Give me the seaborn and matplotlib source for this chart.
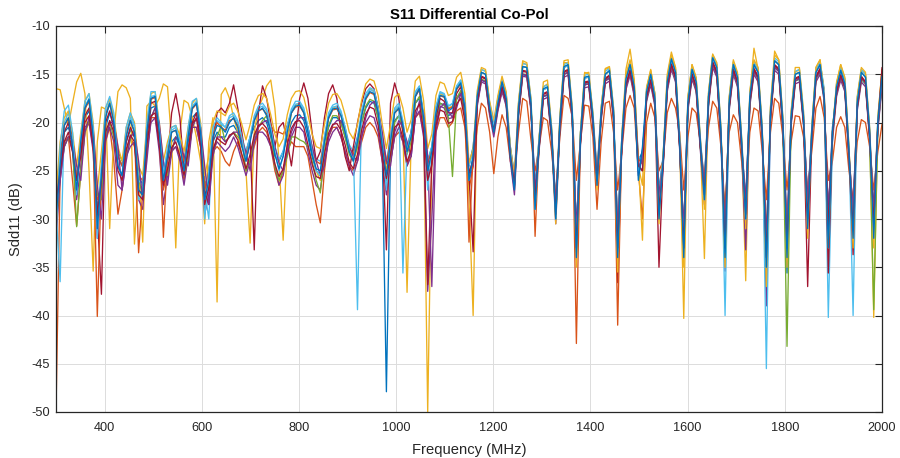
import numpy as np
import pandas as pd
import seaborn as sns
import matplotlib
matplotlib.use("Agg")
import matplotlib.pyplot as plt

# ---------------- data ----------------
# sample grid (MHz)
freq = np.round(300 + 8.5 * np.arange(201), 1)

line01 = [-28, -23, -21, -20.5, -22, -25.5, -23, -19.5, -18.8, -21,
 -29, -26, -20.5, -19, -20.5, -23.5, -24.5, -22, -20.8, -21.5,
 -25.5, -26.5, -21.5, -18.5, -18.3, -21.5, -25, -24, -22, -21.5,
 -22.5, -24, -22, -19.5, -19, -21.5, -27, -25, -22, -21,
 -21.5, -21.5, -20.5, -20.3, -21, -22.5, -23, -21.5, -20.5, -19.8,
 -19.5, -20, -21.5, -23.5, -24, -23, -21.5, -20, -19.3, -19.2,
 -19.8, -21.5, -23.5, -25, -25.5, -22, -20.5, -19.5, -19.5, -20,
 -21.5, -23, -23, -21.5, -20, -18.5, -17.8, -18, -19.5, -23,
 -47.9, -23, -19.8, -19.3, -20.5, -22.5, -21, -18, -17.5, -20,
 -24, -22.5, -19.5, -18, -18.2, -19.3, -19, -17.5, -16.8, -19,
 -24.5, -22.5, -18, -15.6, -15.8, -19, -21, -18.5, -16.6, -18,
 -22.5, -25.5, -19, -15, -15.2, -18.5, -26.5, -21.5, -17.3, -17.2,
 -21.5, -28, -20.5, -15, -14.8, -19.5, -31, -21, -16, -16,
 -20, -25, -19.5, -15.6, -15.4, -19.5, -31, -21.5, -16.3, -14.8,
 -17, -24, -23, -17.5, -15.8, -18, -27, -23.5, -16.5, -14.2,
 -15.5, -22.5, -31, -18.5, -15.2, -16.5, -22.5, -26, -18, -14,
 -15, -21.5, -31, -18.5, -14.7, -16, -22.5, -28, -18, -14.7,
 -15.5, -21.5, -35.8, -19.5, -14.3, -14.7, -20.5, -35.6, -20, -15.7,
 -15.5, -20, -28, -21.5, -15.5, -14.7, -17.5, -30, -20.5, -17,
 -15.3, -16.5, -23.5, -29, -18.5, -15.5, -16, -21.5, -29, -20.5,
 -16]

line02 = [-50, -25.5, -22, -21.5, -26, -30.7, -25, -21, -20, -22.5,
 -28, -27, -22, -20.5, -24, -29.5, -27, -23, -21.5, -22.5,
 -25.5, -26, -23, -19.5, -19.5, -22, -27, -25, -23, -22.5,
 -23.5, -26, -23, -20.5, -20.5, -22.5, -26.5, -27, -23, -22.5,
 -23, -24, -24.5, -23, -22, -23.5, -25, -24, -22.5, -21,
 -20.5, -21, -22.5, -25, -26.5, -25, -23, -22, -22.5, -22.5,
 -22.5, -23.5, -26, -28.5, -30.4, -25, -21.5, -20.5, -20.5, -21.5,
 -23, -24.5, -25, -24, -22, -20.5, -20, -20.5, -21.5, -24,
 -26, -24, -21.5, -21, -22, -24.5, -23, -19.5, -19, -21,
 -26, -24.5, -21, -19.5, -19.5, -20.5, -20, -18.8, -18.5, -20.5,
 -27, -24.5, -20.5, -18, -18.5, -21, -25.3, -21.5, -19.2, -20.5,
 -24, -25.5, -21, -17.5, -17.8, -21.8, -25, -22.5, -19.5, -19.8,
 -23, -27.6, -21.5, -17.2, -17.5, -19.4, -26, -22, -18.2, -18.3,
 -21.5, -29, -22, -18, -17.8, -21, -27, -23, -18.5, -17.2,
 -18.5, -25, -30, -20, -18, -19.5, -25, -24, -19, -17.5,
 -18.5, -21, -27, -21.5, -18.5, -19, -22, -26, -20.5, -17.8,
 -18.5, -22.5, -29, -21, -19.2, -20, -24, -28, -21, -18.5,
 -18.8, -23, -28, -21, -17.5, -18, -21.5, -27, -22, -19.3,
 -19.4, -21.5, -27, -23, -18.5, -17.3, -19.5, -26, -24, -20.5,
 -19.4, -20.5, -25, -28, -22, -19.7, -20, -22.5, -27, -23,
 -20.2]

line03 = [-16.5, -16.6, -18.5, -20.3, -18, -15.8, -14.9, -17, -25, -35.4,
 -22, -18.4, -18.6, -31, -21, -16.8, -16.1, -16.4, -17.5, -32.6,
 -25, -32.4, -18.3, -17.8, -18.3, -17.5, -16, -16.3, -22, -33,
 -21, -17.7, -18, -19.5, -21.5, -24, -30.5, -22, -19.5, -38.6,
 -17.1, -16.4, -17.5, -19.5, -21, -23.5, -25, -32.5, -21, -18.5,
 -17.5, -16.2, -15.6, -18.5, -24, -32.2, -22, -19, -18.2, -18,
 -18.8, -20.5, -22.5, -25, -26, -21.5, -19.5, -18.5, -18.3, -19,
 -20.5, -22.5, -24, -22.5, -19, -17.5, -16.5, -16.8, -18.5, -21.5,
 -25, -22.5, -18.8, -18.3, -21, -37.6, -22, -17, -16.3, -20,
 -50, -24, -18.5, -17, -17.2, -18.5, -18.3, -16.3, -15.6, -19,
 -28, -40, -17.5, -14.5, -14.7, -18, -21, -17.5, -15.5, -17,
 -23.5, -27, -18, -13.8, -14, -18, -29, -21.5, -16.3, -16,
 -21, -30, -19.5, -13.8, -13.8, -19, -33, -21, -14.8, -15,
 -19.5, -27, -18.5, -14.5, -14.3, -19, -33, -21.5, -14.5, -12.4,
 -15.5, -24, -32.2, -16.5, -14.5, -17, -29, -23.5, -15, -12.7,
 -14.3, -22, -40.3, -17.5, -14, -15.5, -22, -34.1, -17, -13,
 -14, -21, -33, -17.5, -13.8, -15, -22, -36.4, -17, -12.3,
 -14.5, -21, -34, -18.5, -12.6, -13.5, -20, -33, -19, -14.8,
 -14.5, -19.5, -30, -20.5, -14.3, -13.5, -17, -32, -21, -16,
 -14, -15.5, -23, -31, -17.5, -14.5, -15, -21, -40.2, -19.5,
 -14.5]

line04 = [-32, -26, -22.5, -21.5, -23, -28, -24.5, -20.5, -20, -23,
 -32, -27, -21.5, -20.5, -22, -26.5, -27, -23.5, -22.5, -22,
 -28, -29, -23, -20, -19.5, -23, -28.5, -25.5, -23, -22.5,
 -24, -26.5, -23.5, -20.5, -20.5, -22.5, -29.5, -27.5, -23, -22,
 -22.5, -23, -22.5, -21.5, -22.5, -24, -25.5, -24, -22, -21,
 -21, -21.5, -22.5, -24.5, -26.5, -25.5, -23, -21.5, -20.5, -20.5,
 -21, -23, -25, -26.5, -27, -24, -22, -21, -20.5, -21.5,
 -23, -24.5, -25.5, -24, -21.5, -20, -19.3, -19.5, -21, -24,
 -27.5, -24, -21.5, -20.5, -22, -24.5, -23.5, -19.5, -18.8, -21.5,
 -37.5, -30, -20, -18.3, -18.5, -19.6, -19.5, -17.6, -17, -19.3,
 -26, -24.5, -18.3, -15.8, -16, -19.3, -21.5, -18.8, -16.8, -18.3,
 -24, -27.5, -19.3, -15.2, -15.3, -18.8, -28.5, -22.8, -17.6, -17.4,
 -21.8, -30.5, -20.8, -15.3, -15.1, -19.8, -34.2, -22.3, -16.4, -16.3,
 -20.3, -26.5, -19.8, -16, -15.7, -19.8, -33, -22.8, -16.6, -15.1,
 -17.3, -25, -23, -17.8, -16.1, -18.3, -29.5, -24.8, -16.8, -14.5,
 -15.8, -22.8, -33, -18.8, -15.5, -16.8, -22.8, -28.5, -18.3, -14.3,
 -15.3, -21.8, -35.4, -18.8, -15, -16.3, -22.8, -33.2, -18.3, -15,
 -15.8, -21.8, -39, -19.8, -14.6, -15, -20.8, -33, -20.3, -16,
 -15.8, -20.3, -30, -21.8, -15.8, -15, -17.8, -29, -22, -17.3,
 -15.6, -16.8, -23.8, -31, -18.8, -15.8, -16.3, -21.8, -31, -20.8,
 -16.3]

line05 = [-30.8, -25.5, -22.5, -21.5, -22.5, -30.8, -25, -21, -19.8, -21,
 -27.5, -28, -21.5, -20, -21.5, -23, -24, -23.5, -21.8, -20.5,
 -25.5, -28, -22.5, -19.5, -18.5, -20.5, -24.5, -25.5, -23, -21.5,
 -21.8, -25.5, -23.5, -20.5, -19.5, -20.5, -26, -27, -23.5, -21.5,
 -20.3, -22, -21.5, -21, -21.5, -21.8, -25, -24, -21.5, -20.5,
 -19.8, -19.3, -21, -24.5, -26, -25, -23.5, -21.5, -21.5, -21.8,
 -22, -22.5, -24, -26, -27.3, -23, -20.3, -19.3, -19.3, -20,
 -21.5, -23.3, -24, -22.5, -20, -18.3, -17.6, -17.8, -19.5, -22.5,
 -26, -24, -20, -19.3, -20.8, -23.3, -22, -18, -17.3, -20,
 -25, -23.5, -19.5, -18, -18.2, -19.5, -25.6, -17.5, -16.7, -19,
 -25.5, -24, -18, -15.5, -15.7, -19, -21, -18.5, -16.5, -18,
 -23.5, -26.5, -19, -15, -15, -18.5, -28, -22.5, -17.3, -17.1,
 -21.5, -29.5, -20.5, -15, -14.8, -19.5, -33.4, -22, -16.1, -16,
 -20, -26, -19.5, -15.7, -15.4, -19.5, -31, -22.5, -16.3, -14.8,
 -17, -24.5, -25, -17.5, -15.8, -18, -28.5, -24.5, -16.5, -14.2,
 -15.5, -22.5, -33, -18.5, -15.2, -16.5, -22.5, -27.5, -18, -14,
 -15, -21.5, -31, -18.5, -14.7, -16, -22.5, -30, -18, -14.7,
 -15.5, -21.5, -32, -19.5, -14.3, -14.7, -20.5, -43.2, -20, -15.7,
 -15.5, -20, -29.5, -21.5, -15.5, -14.7, -17.5, -30, -21.5, -17,
 -15.3, -16.5, -23.5, -30.5, -18.5, -15.5, -16, -21.5, -39.4, -20.5,
 -16]

line06 = [-29, -36.5, -20, -19, -21.5, -26, -22, -18.3, -17.5, -21,
 -30, -24.5, -19, -17.8, -19.5, -23.5, -24.5, -21, -19.5, -20.5,
 -26, -26.5, -20.5, -17.3, -17.2, -20.5, -25, -23, -20.8, -20.5,
 -22, -24, -21, -18.3, -17.8, -20.5, -27, -30, -21, -19.8,
 -20.2, -20.5, -19.5, -19.3, -20, -21.5, -23, -21.5, -19.5, -18.5,
 -18.3, -18.8, -20.5, -22.5, -23.8, -23, -20.5, -18.8, -18.1, -18,
 -18.7, -20.5, -22.5, -23.8, -24, -21.5, -19.3, -18.4, -18.3, -19,
 -20.5, -22.3, -23, -39.4, -19, -17.3, -16.6, -16.8, -18.5, -21.5,
 -24, -21.5, -18.7, -18.3, -35.6, -22.3, -21, -17, -16.3, -19,
 -24, -22.5, -18.5, -16.9, -17.1, -18.3, -18.1, -16.3, -15.7, -18,
 -24.5, -23, -17, -14.5, -14.7, -18, -20, -17.5, -15.5, -17,
 -22.5, -25.5, -18, -13.9, -14, -17.5, -27, -21.5, -16.3, -16.1,
 -20.5, -28.5, -19.5, -14, -13.8, -18.5, -31.5, -21, -15.1, -15,
 -19, -25, -18.5, -14.7, -14.4, -18.5, -31.5, -21.5, -15.3, -13.8,
 -16, -23.5, -24, -16.5, -14.8, -17, -27.5, -23.5, -15.5, -13.2,
 -14.5, -21.5, -31.5, -17.5, -14.2, -15.5, -21.5, -26.5, -17, -13,
 -14, -20.5, -40, -17.5, -13.7, -15, -21.5, -28.5, -17, -13.7,
 -14.5, -20.5, -45.5, -18.5, -13.3, -13.7, -19.5, -31.5, -19, -14.7,
 -14.5, -19, -28.5, -20.5, -14.5, -13.7, -16.5, -40.2, -22, -16,
 -14.3, -15.5, -22.5, -40, -17.5, -14.5, -15, -20.5, -29.5, -19.5,
 -15]

line07 = [-30, -25.5, -21, -20, -22.5, -26, -23, -19.3, -18.5, -22,
 -29.5, -37.8, -20, -18.8, -20.5, -24.5, -25.5, -22, -20.5, -21.5,
 -27, -27.5, -21.5, -18, -17.8, -21.5, -26, -24, -19, -17,
 -19.5, -25, -23, -20, -19, -22, -27, -28.5, -22, -19,
 -18.5, -19, -18, -16.1, -18.5, -21, -24, -22, -33.2, -19,
 -16.2, -17.5, -20, -22.5, -20.5, -20, -22, -24.5, -21, -17.5,
 -15.9, -17.5, -21, -24, -23, -19.5, -17, -16.1, -17.5, -21,
 -23.5, -25, -22.5, -20, -18, -16.5, -16, -16.5, -18.5, -22,
 -33.2, -18, -15.9, -17.5, -21, -23, -21, -17.3, -16.5, -19.5,
 -36.8, -24, -19.5, -17.5, -17.8, -19, -19, -17, -16.3, -18.8,
 -25.5, -33.4, -17.8, -15.2, -15.4, -18.8, -21, -18.3, -16.2, -17.8,
 -23.5, -26.5, -18.8, -14.6, -14.7, -18.3, -28, -22.3, -17, -16.8,
 -21.3, -29.5, -20.3, -14.7, -14.5, -19.3, -32.5, -21.8, -15.8, -15.7,
 -19.8, -26, -19.3, -15.4, -15.1, -19.3, -36.6, -22.3, -16, -14.5,
 -16.8, -24.5, -25, -17.3, -15.5, -17.8, -35, -24.3, -16.2, -13.9,
 -15.2, -22.3, -32.5, -18.3, -14.9, -16.3, -22.3, -27.5, -17.8, -13.7,
 -14.7, -21.3, -32.5, -18.3, -14.4, -15.8, -22.3, -29.5, -17.8, -14.4,
 -15.2, -21.3, -33.5, -19.3, -14, -14.4, -20.3, -32.5, -19.8, -15.4,
 -15.2, -19.8, -37, -21.3, -15.2, -14.4, -17.3, -35.6, -21.5, -16.8,
 -15, -16.3, -23.3, -33.7, -18.3, -15.2, -15.8, -21.3, -30.5, -20.3,
 -14.8]

line08 = [-28.5, -23.5, -20.3, -19.6, -21.5, -26, -22.3, -18.6, -17.8, -22,
 -40.1, -25.5, -19.2, -18.1, -19.8, -23.5, -24.5, -21.2, -19.8, -21,
 -33.5, -27, -20.8, -17.6, -17.4, -20.8, -31.9, -23.2, -21, -20.8,
 -22.3, -24, -21.3, -18.6, -18.1, -20.8, -27, -25, -21.3, -20,
 -20.5, -20.8, -19.8, -19.6, -20.3, -21.8, -23.3, -21.8, -19.8, -18.8,
 -18.6, -19.1, -20.3, -21, -21, -21.2, -20.3, -19, -18.4, -18.3,
 -19, -20.8, -22.8, -24, -24.3, -21.8, -19.6, -18.7, -18.6, -19.3,
 -20.8, -22.6, -23.3, -21.8, -19.3, -17.6, -16.9, -17.1, -18.8, -21.8,
 -24.3, -21.8, -19, -18.6, -20.1, -22.6, -21.3, -17.3, -16.6, -19.3,
 -24.3, -22.8, -18.8, -17.2, -17.4, -18.6, -18.4, -16.6, -16, -18.3,
 -32.4, -23.3, -17.3, -14.8, -15, -18.3, -20.3, -17.8, -15.8, -17.3,
 -22.8, -25.8, -18.3, -14.2, -14.3, -17.8, -31.8, -21.8, -16.6, -16.4,
 -20.8, -28.8, -19.8, -14.3, -14.1, -18.8, -42.9, -21.3, -15.4, -15.3,
 -19.3, -25.3, -18.8, -15, -14.7, -18.8, -41, -21.8, -15.6, -14.1,
 -16.3, -23.8, -24.3, -16.8, -15.1, -17.3, -27.8, -23.8, -15.8, -13.5,
 -14.8, -21.8, -31.8, -17.8, -14.5, -15.8, -21.8, -26.8, -17.3, -13.3,
 -14.3, -20.8, -31.8, -17.8, -14, -15.3, -21.8, -28.8, -17.3, -14,
 -14.8, -20.8, -32.8, -18.8, -13.6, -14, -19.8, -31.8, -19.3, -15,
 -14.8, -19.3, -28.8, -20.8, -14.8, -14, -16.8, -30.8, -21, -16.3,
 -14.6, -15.8, -22.8, -29.8, -17.8, -14.8, -15.3, -20.8, -29.8, -19.8,
 -15.3]

line09 = [-27.5, -22, -19.5, -18.8, -21, -24.5, -21, -17.8, -17, -20,
 -27, -23, -18.5, -17.5, -19.3, -22.5, -24, -20.5, -19, -20,
 -24.5, -25.5, -20, -17, -16.8, -20, -24, -22, -20.5, -20.3,
 -21.3, -23, -20.5, -18, -17.5, -20, -25.5, -23.5, -20, -18.8,
 -19, -19.3, -18.3, -18, -18.8, -20.2, -21.8, -20.2, -18.2, -17.2,
 -17, -17.5, -19.2, -21.2, -22.5, -21.7, -19.2, -17.5, -16.8, -16.7,
 -17.4, -19.2, -21.2, -22.5, -22.7, -20.2, -18, -17.1, -17, -17.7,
 -19.2, -21, -21.7, -20.2, -17.7, -16, -15.5, -15.7, -17.2, -20.2,
 -22.7, -20.2, -17.4, -17, -18.5, -21, -19.7, -15.7, -15.2, -17.7,
 -22.7, -21.2, -17.2, -15.8, -16, -17.2, -17, -15.3, -14.8, -17,
 -24.2, -22.7, -16.7, -14.3, -14.5, -17.8, -19.8, -17.2, -15.2, -16.8,
 -22.5, -25.5, -17.8, -13.6, -13.8, -17.5, -28.5, -21.5, -15.8, -15.6,
 -20.5, -30.5, -19.5, -13.6, -13.5, -18.5, -35, -21, -14.9, -14.8,
 -19, -26.5, -18.5, -14.4, -14.2, -18.5, -35.5, -21.5, -15, -13.5,
 -15.8, -24.5, -26.5, -16.3, -14.6, -17, -30.5, -23.5, -15.3, -13,
 -14.3, -21.5, -35, -17.3, -14, -15.3, -21.5, -29, -16.8, -12.9,
 -13.8, -20.5, -35, -17.3, -13.5, -14.8, -21.5, -31, -16.8, -13.5,
 -14.3, -20.5, -37, -18.3, -13, -13.5, -19.5, -35, -18.8, -14.3,
 -14.3, -18.8, -32, -20.5, -14.3, -13.5, -16.8, -33, -21, -15.8,
 -14, -15.3, -22.5, -33, -17.3, -14.3, -14.8, -20.5, -33, -19.5,
 -14.5]

line10 = [-29.5, -26, -22.5, -21.5, -21.8, -24.5, -26, -21, -19.5, -20.5,
 -26.5, -30, -22, -20, -20, -22.5, -27, -24, -21.5, -21,
 -24, -28, -24, -19.5, -18.5, -20, -24, -26.5, -23, -21.5,
 -22, -23.5, -24.5, -20.5, -19.5, -20.5, -24.5, -28.5, -23.5, -21.5,
 -21.5, -22, -21.5, -21, -21, -22, -23, -25, -22, -20.5,
 -20, -19.8, -20.5, -22.5, -24.2, -25, -23, -21, -20, -19.5,
 -19.5, -20.5, -22.5, -24, -25.5, -24.5, -21.5, -20.3, -19.8, -19.8,
 -20.8, -22.5, -23.5, -24, -21.5, -19.5, -18.2, -17.8, -18.8, -21,
 -24, -24.5, -21, -19.8, -20.5, -22, -23.5, -19.5, -17.8, -19,
 -23.5, -37, -21, -18.5, -18, -18.8, -19.5, -18.5, -17, -18,
 -25.5, -24, -18, -15.6, -15.8, -19, -21, -18.6, -16.6, -18,
 -23.5, -26.5, -19, -15, -15.1, -18.5, -27, -22.4, -17.3, -17.1,
 -21.4, -28.5, -20.4, -15, -14.8, -19.4, -31, -21.9, -16.1, -16,
 -19.9, -25.8, -19.4, -15.7, -15.4, -19.4, -31, -22.4, -16.3, -14.8,
 -16.9, -25.5, -23.5, -17.4, -15.8, -17.9, -27.5, -24.4, -16.5, -14.2,
 -15.4, -22.4, -31, -18.4, -15.2, -16.4, -22.4, -26.5, -17.9, -14,
 -15, -21.4, -31, -18.4, -14.7, -15.9, -22.4, -28, -17.9, -14.7,
 -15.4, -21.4, -32, -19.4, -14.3, -14.7, -20.4, -31, -19.9, -15.7,
 -15.4, -19.9, -28, -21.4, -15.4, -14.7, -17.4, -29.5, -21, -16.9,
 -15.3, -16.4, -23.4, -29, -18.4, -15.4, -15.9, -21.4, -29, -20.4,
 -16]

line11 = [-31.5, -22.5, -18.8, -18.2, -21, -27.5, -21.5, -17.8, -17, -20.5,
 -32, -24.5, -18.5, -17.3, -19, -24.5, -25.5, -20.5, -19, -20.3,
 -28, -27.5, -20, -16.8, -16.8, -20.5, -26, -22.5, -20.5, -20.3,
 -22, -25.5, -20.5, -17.8, -17.5, -20.5, -30, -25, -20.5, -19.5,
 -20, -20.5, -19.3, -19, -19.8, -21.5, -24, -21.5, -19.3, -18.3,
 -18, -18.6, -20.5, -23, -25, -23.5, -20.3, -18.6, -17.8, -17.8,
 -18.5, -20.5, -23, -25, -25.5, -21.5, -19, -18.2, -18, -18.8,
 -20.5, -22.8, -24, -21.5, -18.8, -17, -16.4, -16.6, -18.5, -22,
 -27, -21.5, -18.5, -18, -19.8, -23, -21, -16.8, -16.2, -19.3,
 -27, -22.5, -18.3, -16.8, -17, -18.3, -18, -16.2, -15.6, -18,
 -26, -23.3, -17.3, -14.8, -15, -18.3, -20.3, -17.8, -15.8, -17.3,
 -22.8, -26.5, -18.3, -14.2, -14.3, -17.8, -29, -21.8, -16.6, -16.4,
 -20.8, -30, -19.8, -14.3, -14.1, -18.8, -33, -21.3, -15.4, -15.3,
 -19.3, -26, -18.8, -15, -14.7, -18.8, -33.5, -21.8, -15.6, -14.1,
 -16.3, -25, -24.8, -16.8, -15.1, -17.3, -29, -23.8, -15.8, -13.5,
 -14.8, -21.8, -33, -17.8, -14.5, -15.8, -21.8, -28, -17.3, -13.3,
 -14.3, -20.8, -33.5, -17.8, -14, -15.3, -21.8, -30, -17.3, -14,
 -14.8, -20.8, -35, -18.8, -13.6, -14, -19.8, -33, -19.3, -15,
 -14.8, -19.3, -30, -20.8, -14.8, -14, -16.8, -32, -21, -16.3,
 -14.6, -15.8, -22.8, -31, -17.8, -14.8, -15.3, -20.8, -31, -19.8,
 -15.3]

line12 = [-28.5, -25, -22, -21, -23, -26, -23.5, -20, -19.3, -22.5,
 -29.5, -26, -21, -19.8, -21, -25, -26, -22.8, -21.3, -22,
 -27.5, -28, -22.3, -19.3, -19, -22.3, -26.5, -24.8, -22.6, -22,
 -23.5, -25.5, -22.8, -20.1, -19.6, -22.3, -28.5, -26.8, -22.8, -21.6,
 -22, -22.3, -21.3, -21.1, -21.8, -23.3, -24.8, -23.3, -21.3, -20.3,
 -20.1, -20.6, -22.3, -24.3, -25.6, -24.8, -22.3, -20.6, -19.9, -19.8,
 -20.5, -22.3, -24.3, -25.6, -25.8, -23.3, -21.1, -20.2, -20.1, -20.8,
 -22.3, -24.1, -24.8, -23.3, -20.8, -19.1, -18.4, -18.6, -20.3, -23.3,
 -25.8, -23.3, -20.5, -20.1, -21.6, -24.1, -22.8, -18.8, -18.1, -20.8,
 -26, -24.3, -20.3, -18.7, -18.9, -20.1, -19.9, -18.1, -17.5, -19.8,
 -25.3, -23.8, -17.8, -15.3, -15.5, -18.8, -20.8, -18.3, -16.3, -17.8,
 -23.3, -26.3, -18.8, -14.7, -14.8, -18.3, -28, -22.3, -17.1, -16.9,
 -21.3, -29.5, -20.3, -14.8, -14.6, -19.3, -33, -21.8, -15.9, -15.8,
 -19.8, -26, -19.3, -15.5, -15.2, -19.3, -33, -22.3, -16.1, -14.6,
 -16.8, -24.5, -25, -17.3, -15.6, -17.8, -29, -24.3, -16.3, -14,
 -15.3, -22.3, -33, -18.3, -15, -16.3, -22.3, -27.5, -17.8, -13.8,
 -14.8, -21.3, -33, -18.3, -14.5, -15.8, -22.3, -29.5, -17.8, -14.5,
 -15.3, -21.3, -34, -19.3, -14.1, -14.5, -20.3, -33, -19.8, -15.5,
 -15.3, -19.8, -30, -21.3, -15.3, -14.5, -17.3, -31, -21.3, -16.8,
 -15.1, -16.3, -23.3, -31, -18.3, -15.3, -15.8, -21.3, -30.5, -20.3,
 -14.3]

line13 = [-30, -24.5, -20.3, -19.5, -22.5, -27, -22, -18.5, -17.6, -21.5,
 -31, -25.5, -19.5, -18, -20, -24.5, -25.5, -21.5, -19.8, -21,
 -27, -27.5, -21, -17.5, -17.3, -21, -26, -23.5, -21, -20.8,
 -22.5, -25, -21.5, -18.5, -18, -21, -28, -26, -21.5, -20.3,
 -20.5, -21, -20, -19.5, -20.5, -22.5, -24, -22, -19.8, -18.8,
 -18.5, -19.3, -21, -23.3, -24.8, -23.5, -21, -19, -18.3, -18.2,
 -19, -21, -23.3, -24.8, -25, -22, -19.5, -18.6, -18.5, -19.3,
 -21, -23, -24, -22, -19.3, -17.5, -16.8, -17, -19, -22.5,
 -25.5, -22, -19, -18.5, -20.3, -23, -21.5, -17.3, -16.5, -19.5,
 -25, -23, -19, -17.2, -17.3, -18.8, -18.5, -16.5, -15.9, -18.5,
 -26, -23.5, -17.3, -14.8, -15, -18.5, -21, -18, -15.8, -17.5,
 -23.5, -27, -18.5, -14.2, -14.3, -18, -29, -22, -16.5, -16.3,
 -21, -30, -20, -14.2, -14, -19, -34, -21.5, -15.3, -15.2,
 -19.5, -26.5, -19, -15, -14.6, -19, -34, -22, -15.5, -14,
 -16.3, -26, -22.5, -16.8, -15, -17.5, -30, -24, -15.8, -13.4,
 -14.8, -22, -34, -18, -14.5, -15.8, -22, -28, -17.3, -13.3,
 -14.3, -21, -34, -18, -14, -15.3, -22, -30, -17.3, -14,
 -14.8, -21, -35, -19, -13.6, -14, -20, -34, -19.5, -15,
 -14.8, -19.5, -31, -21, -14.8, -14, -17.5, -33, -21, -16.3,
 -14.6, -16, -23, -32, -18, -14.8, -15.3, -21, -32, -20,
 -15.2]

line_names = ["line01", "line02", "line03", "line04", "line05", "line06", "line07",
              "line08", "line09", "line10", "line11", "line12", "line13"]
line_values = [line01, line02, line03, line04, line05, line06, line07,
               line08, line09, line10, line11, line12, line13]
line_colors = ["#0072BD", "#D95319", "#EDB120", "#7E2F8E", "#77AC30", "#4DBEEE", "#A2142F",
               "#D95319", "#EDB120", "#7E2F8E", "#4DBEEE", "#A2142F", "#0072BD"]

x_ticks = [400, 600, 800, 1000, 1200, 1400, 1600, 1800, 2000]
y_ticks = [-50, -45, -40, -35, -30, -25, -20, -15, -10]

bad = [(n, len(v)) for n, v in zip(line_names, line_values) if len(v) != len(freq)]
if bad:
    raise ValueError(f"length mismatch: {bad}")

frames = [pd.DataFrame({"freq": freq, "sdd11": vals, "line": name})
          for name, vals in zip(line_names, line_values)]
df = pd.concat(frames, ignore_index=True)

# ---------------- style ----------------
sns.set_style("white")
plt.rcParams["font.family"] = ["Liberation Sans", "DejaVu Sans"]
plt.rcParams["axes.edgecolor"] = "#262626"
plt.rcParams["axes.linewidth"] = 0.9

fig = plt.figure(figsize=(9, 4.58), dpi=100)
ax = fig.add_axes([56 / 900, 1 - 412 / 458, (882 - 56) / 900, (412 - 26) / 458])

sns.lineplot(data=df, x="freq", y="sdd11", hue="line", hue_order=line_names,
             palette=dict(zip(line_names, line_colors)), estimator=None, sort=False,
             linewidth=0.95, legend=False, ax=ax)

ax.set_xlim(300, 2000)
ax.set_ylim(-50, -10)
ax.set_xticks(x_ticks)
ax.set_yticks(y_ticks)
ax.set_xticklabels([str(t) for t in x_ticks])
ax.set_yticklabels([str(t) for t in y_ticks])
ax.grid(True, color="#dcdcdc", linewidth=0.7)
ax.set_axisbelow(True)
for s in ax.spines.values():
    s.set_visible(True)
    s.set_color("#262626")
    s.set_linewidth(0.9)
ax.tick_params(axis="both", direction="in", length=5, width=0.8, colors="#262626",
               labelsize=9.2, top=True, right=True)
ax.tick_params(axis="x", pad=7.5)
ax.tick_params(axis="y", pad=4.5)

ax.set_title("S11 Differential Co-Pol", fontsize=10.7, fontweight="bold", color="black", pad=5)
ax.set_xlabel("Frequency (MHz)", fontsize=10.6, color="#262626", labelpad=6)
ax.set_ylabel("Sdd11 (dB)", fontsize=10.6, color="#262626", labelpad=6)

fig.savefig("out.png", dpi=100)
